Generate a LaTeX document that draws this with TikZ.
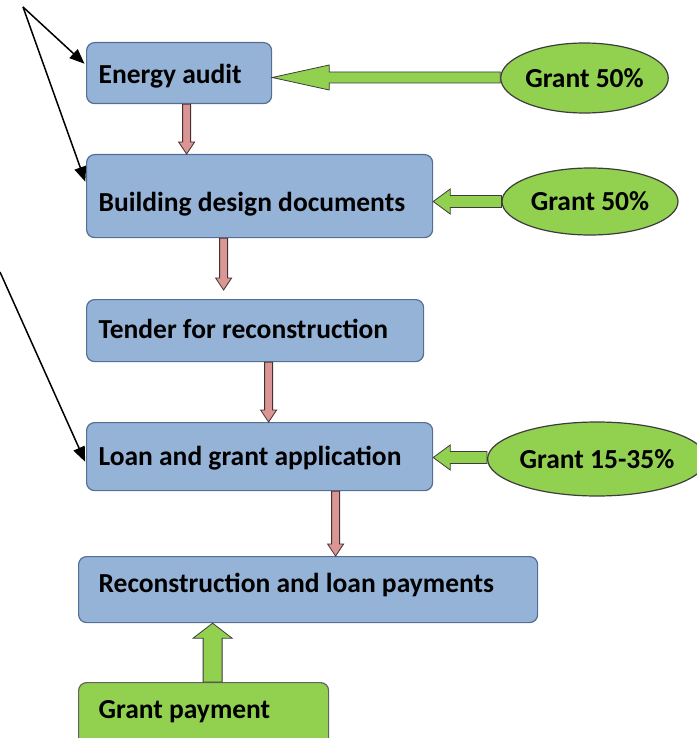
\documentclass[tikz,border=0pt]{standalone}
\usepackage{fontspec}
\setmainfont{Carlito}
\usetikzlibrary{arrows.meta,calc,shapes.geometric}

\definecolor{boxblue}{RGB}{149,179,215}
\definecolor{boxedge}{RGB}{84,110,148}
\definecolor{grantgreen}{RGB}{146,208,80}
\definecolor{darkedge}{RGB}{60,60,60}
\definecolor{pinkfill}{RGB}{217,150,148}
\definecolor{pinkedge}{RGB}{72,48,48}

\begin{document}
\begin{tikzpicture}[x=1pt,y=-1pt,
  every node/.style={font=\fontsize{27.5}{32}\selectfont\bfseries},
  stepbox/.style={draw=boxedge,line width=1.2pt,fill=boxblue,rounded corners=8pt,
    anchor=north west,align=flush left,inner ysep=0pt,inner xsep=12pt},
  paybox/.style={stepbox,draw=darkedge!80,fill=grantgreen},
  grant/.style={ellipse,draw=darkedge,line width=1.2pt,fill=grantgreen,inner sep=0pt},
  vblock/.style n args={3}{to path={let \p1=(\tikztostart), \p2=(\tikztotarget),
    \p3=($(\p2)!#3pt!(\x2,\y1)$) in
    (\x1-#1,\y1) -- (\x1-#1,\y3) -- (\x1-#2,\y3) -- (\x1,\y2) -- (\x1+#2,\y3) -- (\x1+#1,\y3) -- (\x1+#1,\y1) -- cycle}},
  hblock/.style n args={3}{to path={let \p1=(\tikztostart), \p2=(\tikztotarget),
    \p3=($(\p2)!#3pt!(\x1,\y2)$) in
    (\x1,\y1-#1) -- (\x3,\y1-#1) -- (\x3,\y1-#2) -- (\x2,\y1) -- (\x3,\y1+#2) -- (\x3,\y1+#1) -- (\x1,\y1+#1) -- cycle}},
  pinkarrow/.style={fill=pinkfill,draw=pinkedge,line width=0.8pt,vblock={4}{8}{12}},
  greenarrow/.style={fill=grantgreen,draw=darkedge,line width=0.8pt},
  pointer/.style={black,line width=1.5pt,-{Triangle[length=15pt,width=12pt]},shorten >=2pt}]
\useasboundingbox (0,0) rectangle (696,738);

\node[stepbox,text width=161pt,text height=41pt,text depth=20pt] (audit) at (86,42) {Energy audit};
\node[stepbox,text width=322pt,text height=57pt,text depth=26pt] (design) at (86,154) {Building design documents};
\node[stepbox,text width=313pt,text height=39pt,text depth=23pt] (tender) at (86,299) {Tender for reconstruction};
\node[stepbox,text width=322pt,text height=43pt,text depth=25pt] (loan) at (86,422) {Loan and grant application};
\node[stepbox,inner xsep=20pt,text width=419pt,text height=36pt,text depth=30pt] (recon) at (78,556) {Reconstruction and loan payments};
\node[paybox,inner xsep=20pt,text width=210pt,text height=36pt,text depth=34pt] (pay) at (78,682) {Grant payment};

\node[grant,minimum width=165pt,minimum height=70pt] (g1) at (584.5,78) {Grant 50\%};
\node[grant,minimum width=176pt,minimum height=67pt] (g2) at (590,201.5) {Grant 50\%};
\node[grant,minimum width=190pt,minimum height=74pt] (g3) at (597,459) {Grant 15-35\%};

\draw[pinkarrow] ([xshift=7.5pt]audit.south) to (design.north);
\draw[pinkarrow] ([xshift=-36pt]design.south) to ([yshift=9pt]tender.north);
\draw[pinkarrow] ([xshift=13.5pt]tender.south) to (loan.north);
\draw[pinkarrow] ([xshift=76pt]loan.south) to (recon.north);

\draw[greenarrow,hblock={5.5}{12.5}{57}] ([yshift=0.5pt]g1.west) to (audit.east);
\draw[greenarrow,hblock={6}{12.5}{17}] (g2.west) to (design.east);
\draw[greenarrow,hblock={6}{12.5}{17}] ([yshift=1.5pt]g3.west) to (loan.east);
\draw[greenarrow,vblock={9.5}{19.5}{15}] ([xshift=9pt]pay.north) to (recon.south);

\coordinate (apex) at (23,7);
\coordinate (edge) at (0,272);
\draw[pointer] (apex) -- ([yshift=8pt]audit.west);
\draw[pointer] (apex) -- ([yshift=12.5pt]design.west);
\draw[pointer] (edge) -- ([yshift=-7pt]loan.west);
\end{tikzpicture}
\end{document}
